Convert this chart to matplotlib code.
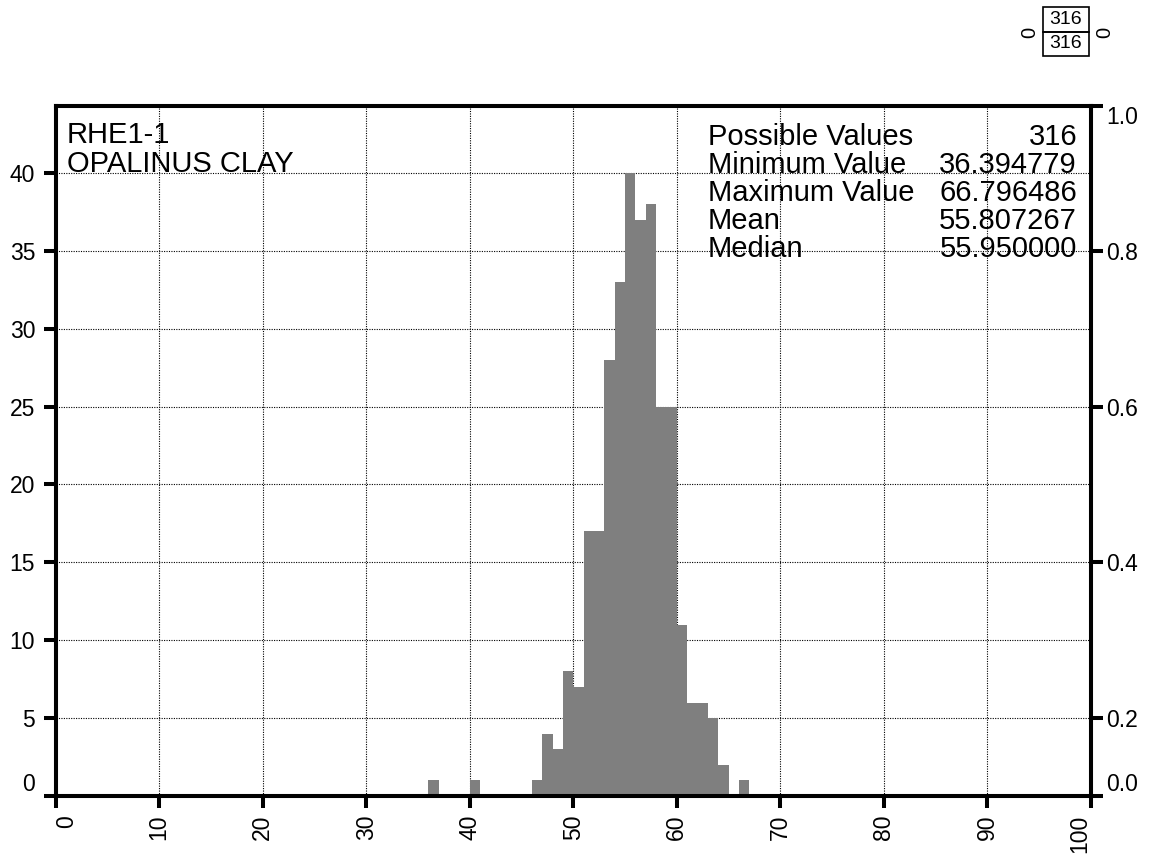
import matplotlib
matplotlib.use("Agg")
import matplotlib.pyplot as plt
from matplotlib.patches import Rectangle

plt.rcParams['font.family'] = ['Liberation Sans', 'DejaVu Sans']

# histogram data (bin width 1)
bin_left = list(range(36, 67))
counts = [1, 0, 0, 0, 1, 0, 0, 0, 0, 0, 1, 4, 3, 8, 7, 17, 17, 28, 33, 40,
          37, 38, 25, 25, 11, 6, 6, 5, 2, 0, 1]

well = "RHE1-1"
formation = "OPALINUS CLAY"
stat_names = ["Possible Values", "Minimum Value", "Maximum Value", "Mean", "Median"]
stat_values = ["316", "36.394779", "66.796486", "55.807267", "55.950000"]

x_ticks = list(range(0, 101, 10))
y_ticks = list(range(0, 41, 5))
right_labels = ["0.0", "0.2", "0.4", "0.6", "0.8", "1.0"]

W, H = 1151, 855
def fx(p):
    return p / W
def fy(p):
    return 1 - p / H

fig = plt.figure(figsize=(W / 100, H / 100), dpi=100)
ax = fig.add_axes([fx(55.5), fy(796), (1091 - 55.5) / W, (796 - 106) / H])

ymax = 44.3
ax.set_xlim(0, 100)
ax.set_ylim(0, ymax)
ax.bar(bin_left, counts, width=1.0, align='edge', color='#7f7f7f',
       edgecolor='none', zorder=2)

ax.set_axisbelow(True)
ax.grid(True, color='black', linestyle=(0, (1, 1.2)), linewidth=0.8)
ax.set_xticks(x_ticks)
ax.set_xticklabels([str(t) for t in x_ticks], rotation=90)
ax.set_yticks(y_ticks)

lw = 2.9
fs = 16.5
for s in ax.spines.values():
    s.set_linewidth(lw)
ax.tick_params(axis='x', direction='out', length=8.6, width=lw, labelsize=fs, pad=5)
ax.tick_params(axis='y', direction='out', length=8.6, width=lw, labelsize=fs, pad=6)

# end labels are pulled inside the axis range
xl = ax.get_xticklabels()
xl[0].set_ha('left')
xl[-1].set_ha('right')
ax.get_yticklabels()[0].set_va('bottom')

ax2 = ax.twinx()
ax2.set_ylim((0 + 5) / 50, (ymax + 5) / 50)
lo, hi = ax2.get_ylim()
ax2.set_yticks([lo, 0.2, 0.4, 0.6, 0.8, hi])
ax2.set_yticklabels(right_labels)
for s in ax2.spines.values():
    s.set_linewidth(lw)
ax2.tick_params(axis='y', direction='out', length=8.6, width=lw, labelsize=fs, pad=2.5)
rl = ax2.get_yticklabels()
rl[0].set_va('bottom')
rl[-1].set_va('top')

# labels inside plot
fig.text(fx(67), fy(143), well, ha='left', va='baseline', fontsize=21)
fig.text(fx(67), fy(172), formation, ha='left', va='baseline', fontsize=21)
for i, (n, v) in enumerate(zip(stat_names, stat_values)):
    yb = 145 + 27.9 * i
    fig.text(fx(708), fy(yb), n, ha='left', va='baseline', fontsize=21)
    fig.text(fx(1077), fy(yb), v, ha='right', va='baseline', fontsize=21)

# small count box at top right
for y0, y1 in [(7, 32), (32, 56)]:
    fig.add_artist(Rectangle((fx(1042.7), fy(y1)), (1089.3 - 1042.7) / W, (y1 - y0) / H,
                             transform=fig.transFigure, fill=False,
                             edgecolor='black', linewidth=1.2))
    fig.text(fx(1066), fy((y0 + y1) / 2), stat_values[0], ha='center', va='center',
             fontsize=14)
fig.text(fx(1029.5), fy(32), "0", rotation=90, ha='center', va='center', fontsize=14.5)
fig.text(fx(1105), fy(32), "0", rotation=90, ha='center', va='center', fontsize=14.5)

fig.savefig("out.png", dpi=100)
